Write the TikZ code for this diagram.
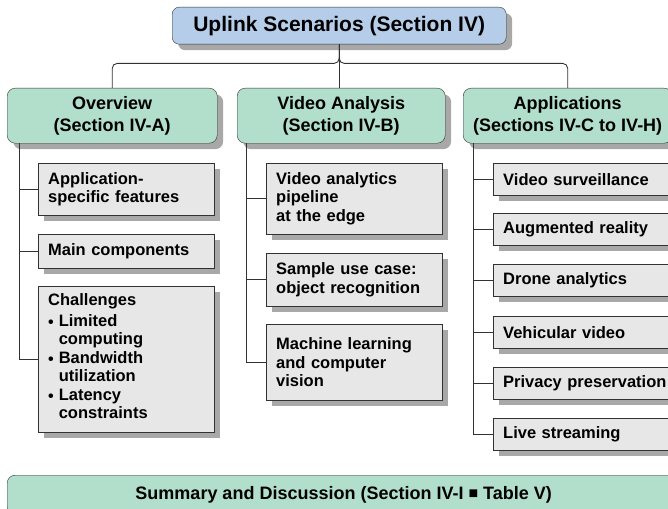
\documentclass[tikz,border=0pt]{standalone}
\usepackage{fontspec}
\setmainfont{Liberation Sans}
\usetikzlibrary{shadows}

\definecolor{topblue}{RGB}{181,205,232}
\definecolor{headgreen}{RGB}{178,223,204}
\definecolor{itemgray}{RGB}{231,231,231}
\definecolor{shadowgray}{RGB}{168,168,168}
\definecolor{edgegray}{RGB}{50,50,50}

\newcommand{\bul}{\raisebox{-1pt}{\fontsize{16}{16}\selectfont •}}

\begin{document}
\begin{tikzpicture}[x=1pt,y=-1pt,
  shad/.style={drop shadow={shadow xshift=6pt,shadow yshift=-6pt,opacity=1,fill=shadowgray}},
  topbox/.style={draw=edgegray,fill=topblue,rounded corners=7pt,shad,anchor=north west,align=center,inner sep=0pt,
    font=\bfseries\fontsize{21}{24}\selectfont},
  headbox/.style={draw=edgegray,fill=headgreen,rounded corners=8pt,shad,anchor=north west,align=center,inner sep=0pt,
    font=\bfseries\fontsize{18}{22}\selectfont},
  itembox/.style={draw=edgegray,fill=itemgray,shad,anchor=north west,align=left,inner xsep=10pt,inner ysep=0pt,
    text width=156pt,font=\bfseries\fontsize{16.5}{18.5}\selectfont},
  appbox/.style={itembox,text width=170pt,minimum height=32pt},
  link/.style={draw=edgegray,line width=0.9pt}]

\useasboundingbox (0,0) rectangle (668,508);

\node[topbox,minimum width=334pt,minimum height=37pt] (uplink) at (172,7) {Uplink Scenarios (Section IV)};

\node[headbox,minimum width=210pt,minimum height=55pt] (over) at (7,88) {Overview\\(Section IV-A)};
\node[headbox,minimum width=208pt,minimum height=55pt] (video) at (237,88) {Video Analysis\\(Section IV-B)};
\node[headbox,minimum width=209pt,minimum height=55pt] (apps) at (463,88) {Applications\\(Sections IV-C to IV-H)};

\node[itembox,minimum height=52pt] (feat) at (38,163) {Application-\\specific features};
\node[itembox,minimum height=34pt] (comp) at (38,234) {Main components};
\node[itembox,minimum height=146pt] (chal) at (38,286) {Challenges\\[3pt]
  \begin{tabular}{@{}l@{\hspace{5pt}}l@{}}
  \bul & Limited\\ & computing\\
  \bul & Bandwidth\\ & utilization\\
  \bul & Latency\\ & constraints
  \end{tabular}};

\node[itembox,minimum height=71pt] (pipe) at (266,163) {Video analytics\\pipeline\\at the edge};
\node[itembox,minimum height=53pt] (usecase) at (266,253) {Sample use case:\\object recognition};
\node[itembox,minimum height=76pt] (learn) at (266,324) {Machine learning\\and computer\\vision};

\node[appbox] (surv) at (493,163) {Video surveillance};
\node[appbox] (aug) at (493,213) {Augmented reality};
\node[appbox] (drone) at (493,264) {Drone analytics};
\node[appbox] (vehic) at (493,316) {Vehicular video};
\node[appbox] (priv) at (493,367) {Privacy preservation};
\node[appbox] (live) at (493,418) {Live streaming};

\node[headbox,minimum width=673pt,minimum height=40pt] (summ) at (7,475) {\raisebox{2pt}{Summary and Discussion (Section IV-I \raisebox{1pt}{\fontsize{16}{16}\selectfont ■} Table V)}};

\draw[link,rounded corners=5pt] (uplink.south) -- ++(0,19) -| (over.north);
\draw[link,rounded corners=5pt] (uplink.south) -- ++(0,19) -| (apps.north);
\draw[link] (uplink.south) -- (uplink.south |- video.north);

\draw[link] ([xshift=12pt]over.south west) |- (feat.west);
\draw[link] ([xshift=12pt]over.south west) |- (comp.west);
\draw[link] ([xshift=12pt]over.south west) |- (chal.west);

\draw[link] ([xshift=9pt]video.south west) |- (pipe.west);
\draw[link] ([xshift=9pt]video.south west) |- (usecase.west);
\draw[link] ([xshift=9pt]video.south west) |- (learn.west);

\draw[link] ([xshift=10pt]apps.south west) |- (surv.west);
\draw[link] ([xshift=10pt]apps.south west) |- (aug.west);
\draw[link] ([xshift=10pt]apps.south west) |- (drone.west);
\draw[link] ([xshift=10pt]apps.south west) |- (vehic.west);
\draw[link] ([xshift=10pt]apps.south west) |- (priv.west);
\draw[link] ([xshift=10pt]apps.south west) |- (live.west);

\end{tikzpicture}
\end{document}
